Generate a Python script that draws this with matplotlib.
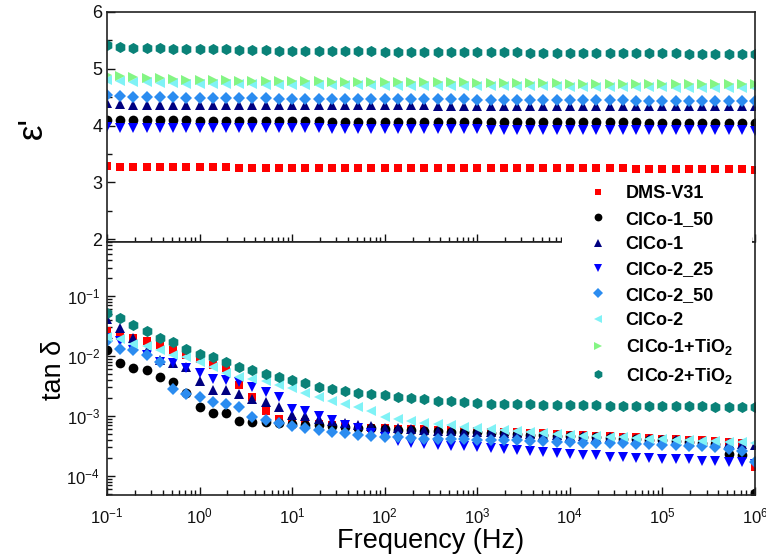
import numpy as np
import matplotlib
matplotlib.use("Agg")
import matplotlib.pyplot as plt
from matplotlib.ticker import MultipleLocator, LogLocator
from matplotlib.patches import Rectangle

plt.rcParams['font.family'] = ['Liberation Sans', 'DejaVu Sans']
plt.rcParams['mathtext.fontset'] = 'custom'
plt.rcParams['mathtext.rm'] = 'Liberation Sans'
plt.rcParams['mathtext.it'] = 'Liberation Sans:italic'
plt.rcParams['mathtext.bf'] = 'Liberation Sans:bold'
plt.rcParams['mathtext.default'] = 'regular'

# ---------------- data ----------------
freq = np.logspace(-1, 6, 50)  # Hz, 7 points per decade

labels = ['DMS-V31', 'ClCo-1_50', 'ClCo-1', 'ClCo-2_25', 'ClCo-2_50', 'ClCo-2',
          r'ClCo-1+TiO$_\mathbf{2}$', r'ClCo-2+TiO$_\mathbf{2}$']

eps_dms = [3.28, 3.27, 3.27, 3.27, 3.27, 3.27, 3.27, 3.27, 3.27, 3.27,
           3.26, 3.26, 3.26, 3.26, 3.26, 3.26, 3.26, 3.26, 3.26, 3.26,
           3.26, 3.26, 3.26, 3.26, 3.26, 3.26, 3.26, 3.25, 3.25, 3.25,
           3.25, 3.25, 3.25, 3.25, 3.25, 3.25, 3.25, 3.25, 3.25, 3.25,
           3.24, 3.24, 3.24, 3.24, 3.24, 3.24, 3.23, 3.23, 3.23, 3.22]
eps_c1_50 = [4.10, 4.09, 4.09, 4.09, 4.09, 4.09, 4.09, 4.08, 4.08, 4.08,
             4.08, 4.08, 4.08, 4.08, 4.08, 4.08, 4.08, 4.07, 4.07, 4.07,
             4.07, 4.07, 4.07, 4.07, 4.07, 4.07, 4.07, 4.07, 4.07, 4.06,
             4.06, 4.06, 4.06, 4.06, 4.06, 4.06, 4.06, 4.06, 4.06, 4.06,
             4.06, 4.05, 4.05, 4.05, 4.05, 4.05, 4.05, 4.05, 4.05, 4.05]
eps_c1 = [4.39, 4.38, 4.37, 4.37, 4.37, 4.37, 4.37, 4.37, 4.37, 4.37,
          4.37, 4.36, 4.36, 4.36, 4.36, 4.36, 4.36, 4.36, 4.36, 4.36,
          4.36, 4.36, 4.36, 4.36, 4.36, 4.35, 4.35, 4.35, 4.35, 4.35,
          4.35, 4.35, 4.35, 4.35, 4.35, 4.35, 4.35, 4.35, 4.35, 4.35,
          4.34, 4.34, 4.34, 4.34, 4.34, 4.34, 4.34, 4.34, 4.34, 4.34]
eps_c2_25 = [3.97, 3.96, 3.96, 3.96, 3.96, 3.96, 3.96, 3.95, 3.95, 3.95,
             3.95, 3.95, 3.95, 3.95, 3.95, 3.95, 3.95, 3.94, 3.94, 3.94,
             3.94, 3.94, 3.94, 3.94, 3.94, 3.94, 3.94, 3.94, 3.94, 3.93,
             3.93, 3.93, 3.93, 3.93, 3.93, 3.93, 3.93, 3.93, 3.93, 3.93,
             3.92, 3.92, 3.92, 3.92, 3.92, 3.92, 3.92, 3.92, 3.92, 3.91]
eps_c2_50 = [4.54, 4.52, 4.51, 4.51, 4.50, 4.50, 4.49, 4.49, 4.49, 4.48,
             4.48, 4.48, 4.48, 4.47, 4.47, 4.47, 4.47, 4.47, 4.47, 4.46,
             4.46, 4.46, 4.46, 4.46, 4.46, 4.46, 4.46, 4.46, 4.45, 4.45,
             4.45, 4.45, 4.45, 4.45, 4.45, 4.45, 4.45, 4.45, 4.45, 4.45,
             4.44, 4.44, 4.44, 4.44, 4.44, 4.44, 4.44, 4.44, 4.44, 4.43]
eps_c2 = [4.80, 4.78, 4.77, 4.76, 4.75, 4.75, 4.74, 4.74, 4.74, 4.73,
          4.73, 4.73, 4.72, 4.72, 4.72, 4.72, 4.71, 4.71, 4.71, 4.71,
          4.71, 4.70, 4.70, 4.70, 4.70, 4.70, 4.70, 4.70, 4.69, 4.69,
          4.69, 4.69, 4.69, 4.69, 4.69, 4.68, 4.68, 4.68, 4.68, 4.68,
          4.68, 4.68, 4.68, 4.67, 4.67, 4.67, 4.67, 4.67, 4.67, 4.67]
eps_c1_ti = [4.89, 4.87, 4.85, 4.84, 4.83, 4.82, 4.81, 4.81, 4.80, 4.80,
             4.79, 4.79, 4.79, 4.78, 4.78, 4.78, 4.78, 4.77, 4.77, 4.77,
             4.77, 4.77, 4.76, 4.76, 4.76, 4.76, 4.76, 4.76, 4.75, 4.75,
             4.75, 4.75, 4.75, 4.75, 4.75, 4.74, 4.74, 4.74, 4.74, 4.74,
             4.74, 4.74, 4.73, 4.73, 4.73, 4.73, 4.73, 4.73, 4.73, 4.73]
eps_c2_ti = [5.42, 5.38, 5.37, 5.36, 5.36, 5.35, 5.35, 5.34, 5.34, 5.34,
             5.33, 5.33, 5.33, 5.32, 5.32, 5.32, 5.32, 5.31, 5.31, 5.31,
             5.31, 5.30, 5.30, 5.30, 5.30, 5.30, 5.29, 5.29, 5.29, 5.29,
             5.29, 5.29, 5.28, 5.28, 5.28, 5.28, 5.28, 5.28, 5.27, 5.27,
             5.27, 5.27, 5.27, 5.27, 5.26, 5.26, 5.26, 5.26, 5.26, 5.26]

tan_dms = [0.026, 0.022, 0.020, 0.018, 0.015, 0.0126, 0.0105, 0.0090, 0.0072, 0.0062,
           0.0033, 0.0021, 0.0012, 0.00088, 0.00083, 0.00078, 0.00074, 0.00070, 0.00067, 0.00065,
           0.00063, 0.00062, 0.00061, 0.00060, 0.00060, 0.00059, 0.00058, 0.00057, 0.00056, 0.00055,
           0.00054, 0.00053, 0.00052, 0.00051, 0.00050, 0.00049, 0.00048, 0.00047, 0.00046, 0.00045,
           0.00044, 0.00043, 0.00042, 0.00041, 0.00040, 0.00039, 0.00038, 0.00037, 0.00035, 0.00014]
tan_c1_50 = [0.0126, 0.0076, 0.0062, 0.0059, 0.0044, 0.0037, 0.0024, 0.0014, 0.0011, 0.0011,
             0.00082, 0.00080, 0.00078, 0.00076, 0.00074, 0.00072, 0.00070, 0.00068, 0.00066, 0.00064,
             0.00062, 0.00060, 0.00059, 0.00058, 0.00057, 0.00056, 0.00055, 0.00054, 0.00053, 0.00052,
             0.00051, 0.00050, 0.00049, 0.00048, 0.00047, 0.00046, 0.00045, 0.00044, 0.00043, 0.00042,
             0.00041, 0.00040, 0.00039, 0.00038, 0.00037, 0.00036, 0.00034, 0.00023, 0.00022, 0.000052]
tan_c1 = [0.042, 0.029, 0.020, 0.012, 0.0085, 0.0076, 0.0066, 0.0038, 0.0027, 0.0027,
          0.0023, 0.0019, 0.0017, 0.0014, 0.00105, 0.00098, 0.00090, 0.00082, 0.00076, 0.00071,
          0.00067, 0.00064, 0.00062, 0.00060, 0.00058, 0.00057, 0.00056, 0.00055, 0.00054, 0.00053,
          0.00052, 0.00051, 0.00050, 0.00049, 0.00048, 0.00047, 0.00046, 0.00045, 0.00044, 0.00043,
          0.00042, 0.00041, 0.00040, 0.00039, 0.00038, 0.00037, 0.00036, 0.00035, 0.00034, 0.00033]
tan_c2_25 = [0.020, 0.018, 0.0125, 0.0105, 0.0081, 0.0076, 0.0062, 0.0052, 0.0042, 0.0040,
             0.0037, 0.0031, 0.0025, 0.0021, 0.0013, 0.0012, 0.00098, 0.00085, 0.00072, 0.00062,
             0.00052, 0.00045, 0.00038, 0.00036, 0.00034, 0.00033, 0.00032, 0.00031, 0.00030, 0.00029,
             0.00028, 0.00027, 0.00026, 0.00025, 0.00024, 0.00023, 0.00022, 0.00022, 0.00021, 0.00021,
             0.00020, 0.00020, 0.00019, 0.00019, 0.00019, 0.00018, 0.00018, 0.00017, 0.00017, 0.00016]
tan_c2_50 = [0.018, 0.013, 0.0126, 0.0104, 0.0080, 0.0028, 0.0023, 0.0021, 0.0017, 0.0016,
             0.0014, 0.00095, 0.00086, 0.00075, 0.00068, 0.00062, 0.00058, 0.00054, 0.00051, 0.00049,
             0.00047, 0.00045, 0.00044, 0.00043, 0.00042, 0.00042, 0.00041, 0.00041, 0.00040, 0.00040,
             0.00039, 0.00039, 0.00038, 0.00038, 0.00037, 0.00037, 0.00036, 0.00036, 0.00035, 0.00035,
             0.00034, 0.00034, 0.00033, 0.00033, 0.00032, 0.00031, 0.00030, 0.00028, 0.00026, 0.00017]
tan_c2 = [0.021, 0.019, 0.016, 0.0145, 0.0126, 0.0105, 0.0098, 0.0081, 0.0066, 0.0053,
          0.0045, 0.0042, 0.0038, 0.0033, 0.0029, 0.0024, 0.0021, 0.0018, 0.0016, 0.0014,
          0.0012, 0.00097, 0.00088, 0.00082, 0.00077, 0.00073, 0.00070, 0.00066, 0.00063, 0.00060,
          0.00058, 0.00056, 0.00054, 0.00052, 0.00050, 0.00048, 0.00047, 0.00046, 0.00045, 0.00044,
          0.00043, 0.00042, 0.00041, 0.00040, 0.00039, 0.00038, 0.00038, 0.00037, 0.00037, 0.00036]
tan_c2_ti = [0.052, 0.043, 0.033, 0.026, 0.020, 0.017, 0.013, 0.011, 0.0095, 0.0081,
             0.0066, 0.0059, 0.0051, 0.0044, 0.0040, 0.0035, 0.0031, 0.0028, 0.0026, 0.0024,
             0.0023, 0.0022, 0.0021, 0.0020, 0.0019, 0.0018, 0.00175, 0.0017, 0.00165, 0.0016,
             0.0016, 0.00158, 0.00156, 0.00155, 0.00153, 0.00152, 0.0015, 0.0015, 0.00149, 0.00148,
             0.00147, 0.00146, 0.00145, 0.00145, 0.00144, 0.00144, 0.00143, 0.00143, 0.00142, 0.00142]

eps_series = [eps_dms, eps_c1_50, eps_c1, eps_c2_25, eps_c2_50, eps_c2, eps_c1_ti, eps_c2_ti]
tan_series = [tan_dms, tan_c1_50, tan_c1, tan_c2_25, tan_c2_50, tan_c2, None, tan_c2_ti]

# ---------------- styles ----------------
colors = ['#ff0000', '#000000', '#000080', '#0000ff', '#2b8cf0', '#80f2f6', '#84f584', '#0a8278']
markers = ['s', 'o', '^', 'v', 'D', '<', '>', 'h']
msizes = [6, 7, 7.5, 7.5, 6, 7.5, 7.5, 8]

fig = plt.figure(figsize=(7.66, 5.58), dpi=100)
fig.patch.set_facecolor('white')
W, H = 766, 558
L, R = 107 / W, 755 / W
ax1 = fig.add_axes([L, 1 - 242 / H, R - L, (242 - 12) / H])
ax2 = fig.add_axes([L, 1 - 495 / H, R - L, (495 - 242) / H], sharex=ax1)

handles = []
for i in range(8):
    h, = ax1.plot(freq, eps_series[i], linestyle='none', marker=markers[i],
                  color=colors[i], ms=msizes[i], mew=0, label=labels[i])
    handles.append(h)
    if tan_series[i] is not None:
        ax2.plot(freq, tan_series[i], linestyle='none', marker=markers[i],
                 color=colors[i], ms=msizes[i], mew=0)

ax1.set_xscale('log')
ax2.set_yscale('log')
ax1.set_xlim(0.1, 1e6)
ax1.set_ylim(1.95, 6)
ax1.yaxis.set_major_locator(MultipleLocator(1))
ax1.yaxis.set_minor_locator(MultipleLocator(0.5))
ax2.set_ylim(4.8e-5, 0.8)
ax2.yaxis.set_major_locator(LogLocator(base=10, numticks=10))
ax2.yaxis.set_minor_locator(LogLocator(base=10, subs=np.arange(2, 10), numticks=10))
ax2.xaxis.set_major_locator(LogLocator(base=10, numticks=12))
ax2.xaxis.set_minor_locator(LogLocator(base=10, subs=np.arange(2, 10), numticks=12))

for ax in (ax1, ax2):
    ax.tick_params(which='both', direction='in', top=False, right=False,
                   width=1, colors='#111111', labelsize=12)
    ax.tick_params(which='major', length=6)
    ax.tick_params(which='minor', length=3.5)
    for s in ax.spines.values():
        s.set_linewidth(1.2)
        s.set_color('#222222')
ax1.tick_params(labelbottom=False)
ax1.tick_params(axis='y', labelsize=13)
ax2.tick_params(axis='x', pad=8)
ax2.tick_params(axis='y', pad=5)

fig.text(32 / W, 1 - 128 / H, "ε'", rotation=90, fontsize=25, ha='center', va='center')
fig.text(54 / W, 1 - 370 / H, 'tan δ', rotation=90, fontsize=19.5, ha='center', va='center')
fig.text(431 / W, 1 - 541 / H, 'Frequency (Hz)', fontsize=19.5, ha='center', va='center')

# white background behind the legend, covering the panel divider
fig.patches.append(Rectangle((562 / W, 1 - 398 / H), (752 - 562) / W, (398 - 178) / H,
                             transform=fig.transFigure, facecolor='white',
                             edgecolor='none', zorder=4))

leg = fig.legend(handles=handles, labels=labels, loc='upper left',
                 bbox_to_anchor=(584 / W, 1 - 180 / H), frameon=False,
                 prop={'weight': 'bold', 'size': 13}, handlelength=1.0,
                 handletextpad=1.0, labelspacing=0.46, borderpad=0.3,
                 markerscale=0.8, borderaxespad=0)
leg.set_zorder(5)

fig.savefig('out.png', dpi=100, facecolor='white')
